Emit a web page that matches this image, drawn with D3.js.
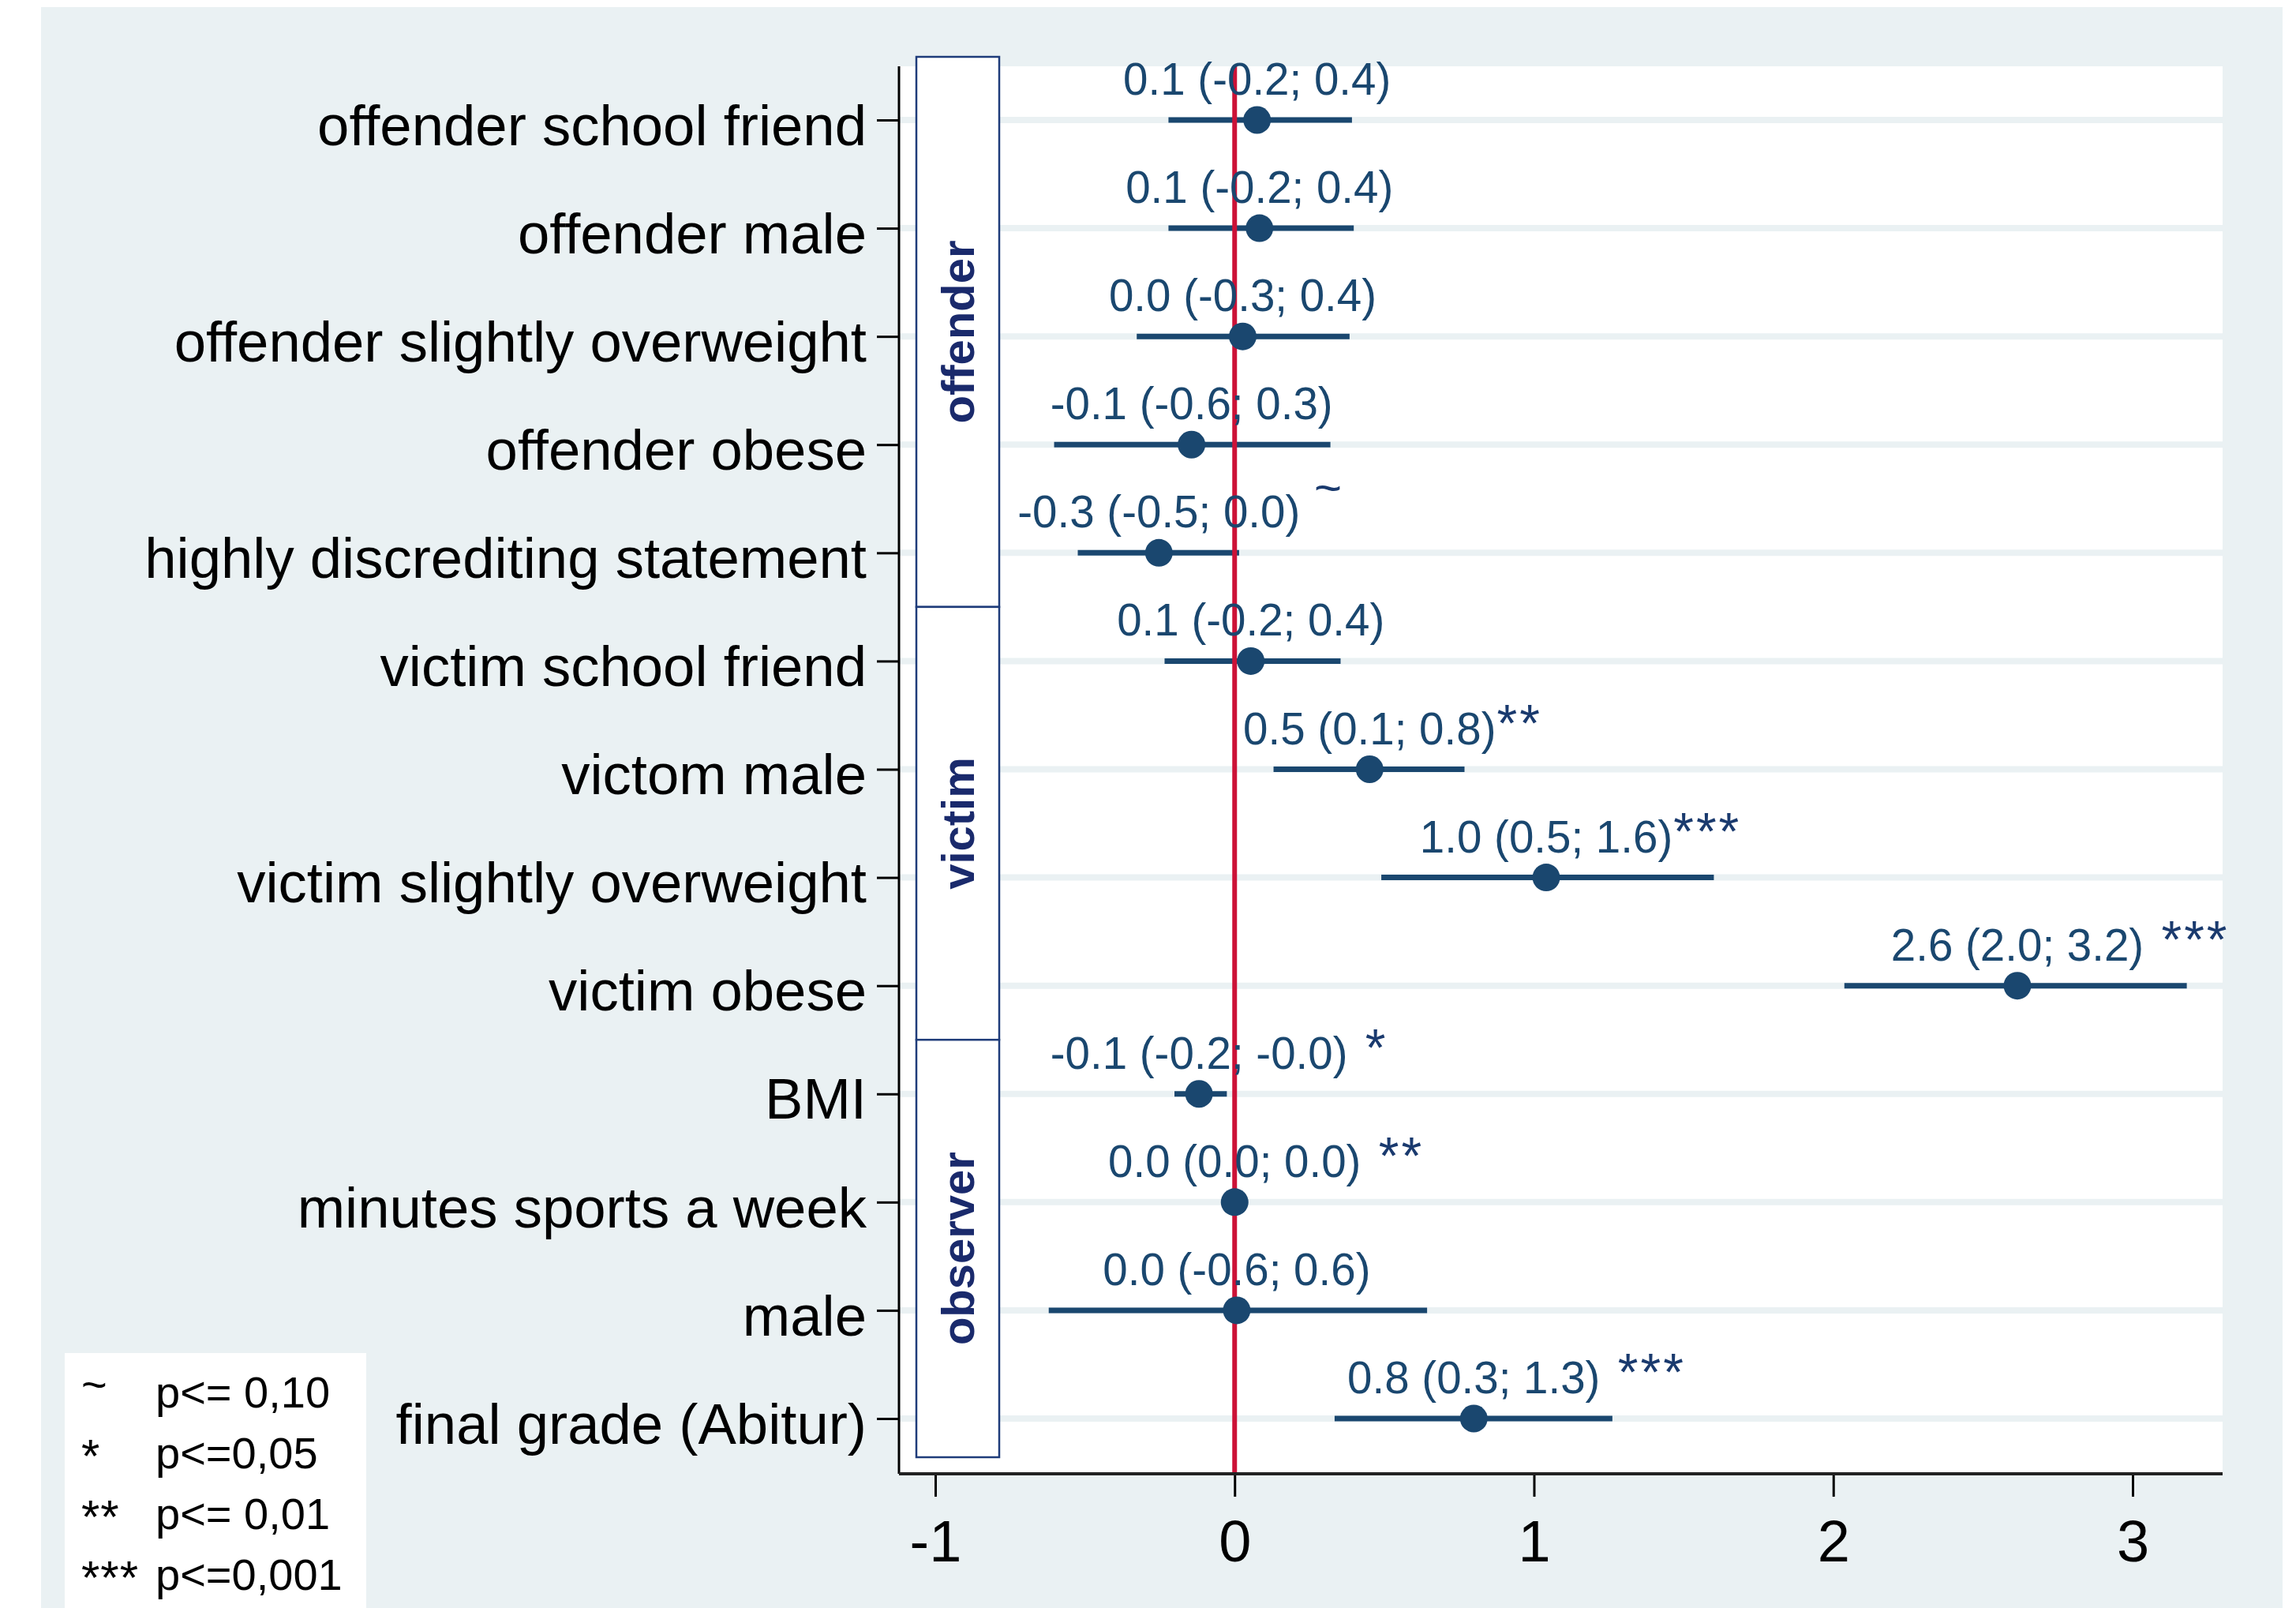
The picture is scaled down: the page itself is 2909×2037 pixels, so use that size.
<!DOCTYPE html>
<html>
<head>
<meta charset="utf-8">
<script src="https://cdn.jsdelivr.net/npm/d3@7"></script>
<style>
body { margin: 0; background: #fff; }
text { font-family: "Liberation Sans", Arial, sans-serif; }
</style>
</head>
<body>
<div id="chart"></div>
<script>
// rows, top to bottom
var categories = ["offender school friend", "offender male", "offender slightly overweight",
  "offender obese", "highly discrediting statement", "victim school friend", "victom male",
  "victim slightly overweight", "victim obese", "BMI", "minutes sports a week", "male",
  "final grade (Abitur)"];
var estimates = [0.075, 0.083, 0.027, -0.144, -0.253, 0.054, 0.451, 1.041, 2.615, -0.119, 0.0, 0.007, 0.799];
var lower = [-0.221, -0.221, -0.327, -0.603, -0.524, -0.234, 0.130, 0.490, 2.037, -0.201, 0.0, -0.621, 0.334];
var upper = [0.392, 0.398, 0.384, 0.320, 0.015, 0.354, 0.768, 1.601, 3.181, -0.026, 0.002, 0.643, 1.262];
var stars = ["", "", "", "", " ~", "", "**", "***", " ***", " *", " **", "", " ***"];
var groups = ["offender", "victim", "observer"];
var groupSizes = [5, 4, 4];
var xTicks = [-1, 0, 1, 2, 3];
var legendSymbols = ["~", "*", "**", "***"];
var legendText = ["p<= 0,10", "p<=0,05", "p<= 0,01", "p<=0,001"];

var width = 2909, height = 2037;
var plot = {left: 1139, right: 2816, top: 84, bottom: 1867};
var navy = "#1a476f";
var panelColor = "#eaf1f3";

var svg = d3.select("#chart").append("svg")
  .attr("width", width).attr("height", height);

svg.append("rect").attr("width", width).attr("height", height).attr("fill", "#fff");
// graph region
svg.append("rect")
  .attr("x", 52).attr("y", 9)
  .attr("width", 2892 - 52).attr("height", height - 9)
  .attr("fill", panelColor);
// plot region
svg.append("rect")
  .attr("x", plot.left).attr("y", plot.top)
  .attr("width", plot.right - plot.left).attr("height", plot.bottom - plot.top)
  .attr("fill", "#fff");

var x = d3.scaleLinear().domain([-1, 3]).range([1185, 2702]);
var y = d3.scalePoint().domain(categories).range([152, 1797]);

var rows = categories.map(function(c, i) {
  return {cat: c, est: estimates[i], lo: lower[i], hi: upper[i], star: stars[i]};
});

// horizontal grid lines
svg.append("g").selectAll("line")
  .data(categories)
  .enter().append("line")
    .attr("x1", plot.left).attr("x2", plot.right)
    .attr("y1", function(d){ return y(d); })
    .attr("y2", function(d){ return y(d); })
    .attr("stroke", panelColor)
    .attr("stroke-width", 8);

// group boxes on the left side of the plot
var step = y.step();
var start = 0;
var boxes = groups.map(function(g, i) {
  var first = categories[start], last = categories[start + groupSizes[i] - 1];
  start += groupSizes[i];
  return {
    name: g,
    top: i == 0 ? y(first) - 80 : y(first) - step / 2,
    bottom: i == groups.length - 1 ? y(last) + 49 : y(last) + step / 2
  };
});
var bx0 = 1161, bx1 = 1266;
var gb = svg.append("g").selectAll("g")
  .data(boxes)
  .enter().append("g");
gb.append("rect")
  .attr("x", bx0).attr("width", bx1 - bx0)
  .attr("y", function(d){ return d.top; })
  .attr("height", function(d){ return d.bottom - d.top; })
  .attr("fill", "#fff")
  .attr("stroke", "#1f3c7a")
  .attr("stroke-width", 2.5);
gb.append("text")
  .attr("transform", function(d){
    return "translate(" + (bx0 + bx1) / 2 + "," + (d.top + d.bottom) / 2 + ") rotate(-90)";
  })
  .attr("text-anchor", "middle")
  .attr("dy", "0.36em")
  .attr("font-size", 58)
  .attr("font-weight", "bold")
  .attr("fill", "#1a2a6c")
  .text(function(d){ return d.name; });

// confidence intervals
svg.append("g").selectAll("line")
  .data(rows)
  .enter().append("line")
    .attr("x1", function(d){ return x(d.lo); })
    .attr("x2", function(d){ return x(d.hi); })
    .attr("y1", function(d){ return y(d.cat); })
    .attr("y2", function(d){ return y(d.cat); })
    .attr("stroke", navy)
    .attr("stroke-width", 7);

// reference line at 0
svg.append("line")
  .attr("x1", x(0)).attr("x2", x(0))
  .attr("y1", plot.top).attr("y2", plot.bottom)
  .attr("stroke", "#cc1237")
  .attr("stroke-width", 6);

// point estimates
svg.append("g").selectAll("circle")
  .data(rows)
  .enter().append("circle")
    .attr("cx", function(d){ return x(d.est); })
    .attr("cy", function(d){ return y(d.cat); })
    .attr("r", 17.5)
    .attr("fill", navy);

// value labels
var lab = svg.append("g").selectAll("g")
  .data(rows)
  .enter().append("g");
lab.append("text")
  .attr("class", "val")
  .attr("x", function(d){ return x(d.est); })
  .attr("y", function(d){ return y(d.cat) - 32; })
  .attr("text-anchor", "middle")
  .attr("font-size", 56.5)
  .attr("fill", navy)
  .text(function(d){
    return d.est.toFixed(1) + " (" + d.lo.toFixed(1) + "; " + d.hi.toFixed(1) + ")";
  });
lab.each(function(d){
  if (!d.star) return;
  var t = d3.select(this).select("text.val");
  var w = t.node().getComputedTextLength();
  var tilde = d.star.trim() == "~";
  d3.select(this).append("text")
    .attr("x", x(d.est) + w / 2 + 1)
    .attr("y", y(d.cat) - 32 - (tilde ? 30 : 4))
    .attr("font-family", "DejaVu Sans, sans-serif")
    .attr("font-size", tilde ? 60 : 66)
    .attr("letter-spacing", tilde ? 0 : 3)
    .attr("fill", "#1a3a6e")
    .style("white-space", "pre")
    .text(d.star);
});

// axes
var yAxis = svg.append("g")
  .attr("transform", "translate(" + plot.left + ",0)")
  .call(d3.axisLeft(y).tickSize(28).tickPadding(13));
yAxis.select(".domain").remove();
yAxis.selectAll(".tick line").attr("stroke", "#000").attr("stroke-width", 3);
yAxis.selectAll(".tick text")
  .attr("font-size", 72.5)
  .attr("font-family", "Liberation Sans, Arial, sans-serif")
  .attr("fill", "#000")
  .attr("dy", "0.43em");

var xAxis = svg.append("g")
  .attr("transform", "translate(0," + plot.bottom + ")")
  .call(d3.axisBottom(x).tickValues(xTicks).tickSize(29).tickPadding(29)
    .tickFormat(function(d){ return String(d); }));
xAxis.select(".domain").remove();
xAxis.selectAll(".tick line").attr("stroke", "#000").attr("stroke-width", 3);
xAxis.selectAll(".tick text")
  .attr("font-size", 74)
  .attr("font-family", "Liberation Sans, Arial, sans-serif")
  .attr("fill", "#000");

svg.append("line")
  .attr("x1", plot.left).attr("x2", plot.left)
  .attr("y1", plot.top).attr("y2", plot.bottom)
  .attr("stroke", "#000").attr("stroke-width", 3);
svg.append("line")
  .attr("x1", plot.left).attr("x2", plot.right)
  .attr("y1", plot.bottom).attr("y2", plot.bottom)
  .attr("stroke", "#222").attr("stroke-width", 4);

// significance legend
svg.append("rect")
  .attr("x", 82).attr("y", 1714)
  .attr("width", 382).attr("height", height - 1714)
  .attr("fill", "#fff");
var lg = svg.append("g").selectAll("g")
  .data(legendSymbols)
  .enter().append("g")
    .attr("transform", function(d, i){ return "translate(0," + (1783 + i * 77) + ")"; });
lg.append("text")
  .attr("x", 103)
  .attr("y", function(d){ return d == "~" ? -10 : 5; })
  .attr("font-family", "DejaVu Sans, sans-serif")
  .attr("font-size", function(d){ return d == "~" ? 56 : 60; })
  .attr("letter-spacing", 1)
  .attr("fill", "#000")
  .text(function(d){ return d; });
lg.append("text")
  .attr("x", 197)
  .attr("font-family", "Lato, sans-serif")
  .attr("font-size", 56)
  .attr("fill", "#000")
  .style("white-space", "pre")
  .text(function(d, i){ return legendText[i]; });
</script>
</body>
</html>
